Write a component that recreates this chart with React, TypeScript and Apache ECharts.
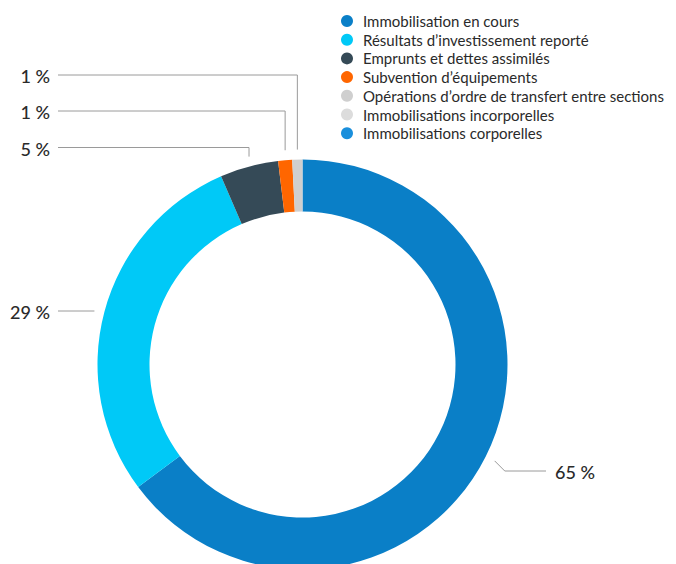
import React, { useEffect, useRef } from 'react';
import * as echarts from 'echarts';

const categories = [
  'Immobilisation en cours',
  'Résultats d’investissement reporté',
  'Emprunts et dettes assimilés',
  'Subvention d’équipements',
  'Opérations d’ordre de transfert entre sections',
  'Immobilisations incorporelles',
  'Immobilisations corporelles',
];
const values = [64.8, 28.7, 4.6, 1.1, 0.8, 0, 0];
const colors = ['#0a7fc7', '#00c9f7', '#354a57', '#ff6600', '#cfcfcf', '#dcdcdc', '#1a8fdc'];

// layout constants
const CX = 302.5;
const CY = 364.5;
const R_IN = 153;
const R_OUT = 205;
const FONT = 'Lato, "Open Sans", sans-serif';
const LEFT_TEXT_X = 50;
const LEFT_LINE_X = 58;
const TOP_ROWS: Record<number, number> = { 2: 147.5, 3: 111, 4: 75 };

function midPoint(i: number) {
  const total = values.reduce((a, b) => a + b, 0);
  let cum = 0;
  for (let j = 0; j < i; j++) cum += values[j];
  const a = ((cum + values[i] / 2) / total) * Math.PI * 2;
  return { sx: Math.sin(a), cy: Math.cos(a), ex: CX + R_OUT * Math.sin(a), ey: CY - R_OUT * Math.cos(a) };
}

export default function App() {
  const ref = useRef<HTMLDivElement>(null);
  useEffect(() => {
    if (!ref.current) return;
    const chart = echarts.init(ref.current, undefined, { renderer: 'svg' });
    chart.setOption({
      animation: false,
      backgroundColor: '#ffffff',
      legend: {
        orient: 'vertical',
        left: 336,
        top: 8,
        icon: 'circle',
        itemWidth: 12,
        itemHeight: 12,
        itemGap: 2.7,
        selectedMode: false,
        data: categories,
        textStyle: {
          fontFamily: FONT,
          fontSize: 15,
          lineHeight: 16,
          color: '#2a2a2a',
          padding: [0, 0, 0, 5],
        },
      },
      series: [
        {
          type: 'pie',
          center: [CX, CY],
          radius: [R_IN, R_OUT],
          startAngle: 90,
          clockwise: true,
          avoidLabelOverlap: false,
          data: categories.map((name, i) => ({
            name,
            value: values[i],
            itemStyle: { color: colors[i] },
            label: { show: values[i] > 0 },
            labelLine: { show: values[i] > 0 },
          })),
          label: {
            formatter: (p: any) => Math.round(p.percent) + ' %',
            fontFamily: FONT,
            fontSize: 18,
            fontWeight: 500,
            color: '#2a2a2a',
          },
          labelLine: {
            show: true,
            lineStyle: { color: '#9a9a9a', width: 1 },
          },
          labelLayout: (params: any) => {
            const i = params.dataIndex;
            if (!(values[i] > 0)) return {};
            const m = midPoint(i);
            if (i === 0) {
              const sx = m.ex + 10 * m.sx;
              const sy = m.ey - 10 * m.cy;
              const ly = 471;
              const elbowX = sx + (ly - sy);
              return {
                x: 555,
                y: ly + 1,
                align: 'left',
                verticalAlign: 'middle',
                labelLinePoints: [[sx, sy], [elbowX, ly], [546, ly]],
              };
            }
            if (i === 1) {
              const ly = 311;
              return {
                x: LEFT_TEXT_X,
                y: ly + 1,
                align: 'right',
                verticalAlign: 'middle',
                labelLinePoints: [[m.ex - 10, ly], [m.ex - 10, ly], [LEFT_LINE_X, ly]],
              };
            }
            const ly = TOP_ROWS[i];
            return {
              x: LEFT_TEXT_X,
              y: ly + 1,
              align: 'right',
              verticalAlign: 'middle',
              labelLinePoints: [[m.ex, m.ey - 10], [m.ex, ly], [LEFT_LINE_X, ly]],
            };
          },
        },
      ],
    });
    return () => chart.dispose();
  }, []);
  return (
    <div
      ref={ref}
      style={{ position: 'fixed', left: 0, top: 0, width: 676, height: 564 }}
    />
  );
}
